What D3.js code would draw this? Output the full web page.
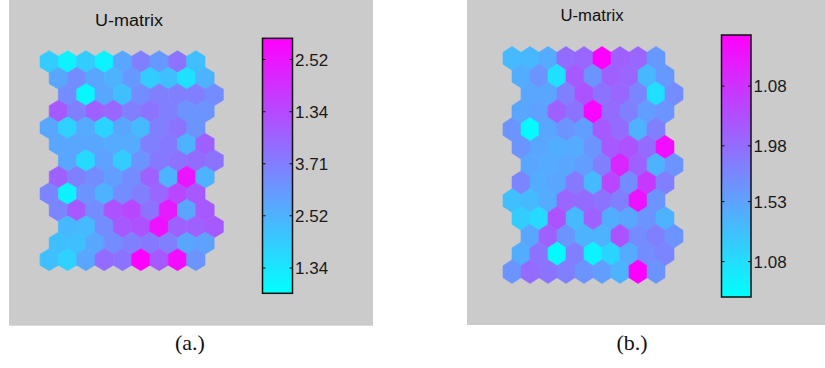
<!DOCTYPE html>
<meta charset="utf-8" />
<script src="https://d3js.org/d3.v7.min.js"></script>
<body style="margin:0;background:#fff">
  <div id="my_dataviz"></div>
  <script>
    // normalised U-matrix values (0 = cyan, 1 = magenta), 13 rows x 9 cells
    var umatA = [
      [0.2, 0.05, 0.2, 0.05, 0.35, 0.5, 0.4, 0.55, 0.25],
      [0.35, 0.45, 0.35, 0.3, 0.4, 0.2, 0.25, 0.12, 0.3],
      [0.45, 0.03, 0.35, 0.25, 0.45, 0.5, 0.5, 0.5, 0.45],
      [0.65, 0.5, 0.62, 0.6, 0.5, 0.55, 0.5, 0.42, 0.42],
      [0.35, 0.18, 0.33, 0.17, 0.35, 0.27, 0.5, 0.55, 0.42],
      [0.35, 0.35, 0.35, 0.33, 0.33, 0.5, 0.52, 0.3, 0.62],
      [0.35, 0.15, 0.37, 0.2, 0.42, 0.52, 0.55, 0.58, 0.55],
      [0.62, 0.5, 0.45, 0.38, 0.45, 0.62, 0.3, 0.92, 0.3],
      [0.48, 0.05, 0.42, 0.3, 0.45, 0.5, 0.6, 0.72, 0.65],
      [0.48, 0.65, 0.45, 0.68, 0.72, 0.55, 0.9, 0.35, 0.65],
      [0.28, 0.27, 0.45, 0.65, 0.68, 0.93, 0.62, 0.62, 0.65],
      [0.25, 0.25, 0.35, 0.45, 0.5, 0.52, 0.5, 0.35, 0.37],
      [0.25, 0.18, 0.35, 0.58, 0.55, 1.0, 0.65, 0.95, 0.42]
    ];
    var umatB = [
      [0.27, 0.28, 0.33, 0.58, 0.6, 1.0, 0.62, 0.6, 0.4],
      [0.32, 0.42, 0.12, 0.65, 0.42, 0.62, 0.6, 0.28, 0.4],
      [0.35, 0.35, 0.5, 0.68, 0.55, 0.6, 0.48, 0.12, 0.45],
      [0.35, 0.37, 0.62, 0.55, 0.98, 0.58, 0.5, 0.38, 0.42],
      [0.42, 0.02, 0.35, 0.42, 0.38, 0.65, 0.58, 0.3, 0.5],
      [0.42, 0.35, 0.32, 0.33, 0.42, 0.65, 0.68, 0.58, 0.95],
      [0.35, 0.33, 0.35, 0.38, 0.5, 0.85, 0.62, 0.3, 0.42],
      [0.48, 0.32, 0.35, 0.52, 0.27, 0.72, 0.45, 0.78, 0.5],
      [0.25, 0.27, 0.33, 0.6, 0.58, 0.55, 0.5, 0.93, 0.42],
      [0.2, 0.15, 0.68, 0.27, 0.62, 0.32, 0.35, 0.42, 0.3],
      [0.35, 0.62, 0.42, 0.3, 0.3, 0.68, 0.45, 0.5, 0.42],
      [0.32, 0.55, 0.02, 0.5, 0.05, 0.17, 0.33, 0.45, 0.48],
      [0.42, 0.58, 0.55, 0.5, 0.42, 0.38, 0.3, 1.0, 0.42]
    ];

    // colorbar ticks (position on the normalised bar) and their labels
    var tickValsA = [0.099, 0.304, 0.508, 0.712, 0.917];
    var tickLabelsA = ["1.34", "2.52", "3.71", "1.34", "2.52"];
    var tickValsB = [0.135, 0.364, 0.577, 0.805];
    var tickLabelsB = ["1.08", "1.53", "1.98", "1.08"];

    var titles = ["U-matrix", "U-matrix"];
    var captions = ["(a.)", "(b.)"];

    // row shift in cell widths (the map edge zig-zags every 4 rows)
    var rowShift = [0, 0.5, 1, 0.5];

    var color = d3.scaleLinear().domain([0, 1]).range(["#00ffff", "#ff00ff"]);

    var svg = d3
      .select("#my_dataviz")
      .append("svg")
      .attr("width", 825)
      .attr("height", 368);

    var defs = svg.append("defs");
    var grad = defs
      .append("linearGradient")
      .attr("id", "cool")
      .attr("x1", 0).attr("y1", 1)
      .attr("x2", 0).attr("y2", 0);
    d3.range(0, 1.0001, 0.1).forEach(function (t) {
      grad.append("stop").attr("offset", t).attr("stop-color", color(t));
    });

    function hexPath(w, h) {
      var pts = [
        [0, -h / 2], [w / 2, -h / 4], [w / 2, h / 4],
        [0, h / 2], [-w / 2, h / 4], [-w / 2, -h / 4]
      ];
      return "M" + pts.map(function (p) { return p.join(","); }).join("L") + "Z";
    }

    function drawPanel(p) {
      var g = svg.append("g");

      // gray figure background
      g.append("rect")
        .attr("x", p.bg[0]).attr("y", p.bg[1])
        .attr("width", p.bg[2]).attr("height", p.bg[3])
        .attr("fill", "#cbcbcb");

      g.append("text")
        .attr("x", p.titleX).attr("y", p.titleY)
        .attr("text-anchor", "middle")
        .attr("textLength", p.titleW)
        .attr("lengthAdjust", "spacingAndGlyphs")
        .style("font-family", "Liberation Sans, Arial, sans-serif")
        .style("font-size", "16px")
        .attr("fill", "#111")
        .text(p.title);

      var x = d3.scaleLinear().domain([0, 9]).range([p.x0, p.x0 + 9 * p.w]);
      var y = d3.scaleLinear().domain([0, 12]).range([p.y0, p.y1]);
      var h = ((p.y1 - p.y0) / 12) / 0.75;

      var cells = [];
      p.data.forEach(function (row, r) {
        row.forEach(function (v, c) {
          cells.push({ r: r, c: c, v: v });
        });
      });

      g.selectAll("path.hex")
        .data(cells)
        .enter()
        .append("path")
        .attr("class", "hex")
        .attr("d", hexPath(p.w, h))
        .attr("transform", function (d) {
          return "translate(" + x(d.c + rowShift[d.r % 4]) + "," + y(d.r) + ")";
        })
        .attr("fill", function (d) { return color(d.v); })
        .attr("stroke", function (d) { return color(d.v); })
        .attr("stroke-width", 0.6);

      // colorbar
      var cy = d3.scaleLinear().domain([0, 1]).range([p.cb[3], p.cb[1]]);
      g.append("rect")
        .attr("x", p.cb[0]).attr("y", p.cb[1])
        .attr("width", p.cb[2]).attr("height", p.cb[3] - p.cb[1])
        .attr("fill", "url(#cool)")
        .attr("stroke", "#111")
        .attr("stroke-width", 1.5);

      var ticks = g.selectAll("g.tick")
        .data(p.ticks)
        .enter()
        .append("g")
        .attr("class", "tick")
        .attr("transform", function (d) { return "translate(0," + cy(d) + ")"; });
      ticks.append("line")
        .attr("x1", p.cb[0]).attr("x2", p.cb[0] + 3)
        .attr("stroke", "#111");
      ticks.append("line")
        .attr("x1", p.cb[0] + p.cb[2] - 3).attr("x2", p.cb[0] + p.cb[2])
        .attr("stroke", "#111");
      ticks.append("text")
        .attr("x", p.cb[0] + p.cb[2] + 2.5)
        .attr("dy", "0.36em")
        .style("font-family", "Liberation Sans, Arial, sans-serif")
        .style("font-size", "17px")
        .attr("fill", "#1a1a1a")
        .text(function (d, i) { return p.labels[i]; });

      svg.append("text")
        .attr("x", p.capX).attr("y", 350)
        .attr("text-anchor", "middle")
        .style("font-family", "Liberation Serif, Times New Roman, serif")
        .style("font-size", "22px")
        .attr("fill", "#111")
        .text(p.caption);
    }

    drawPanel({
      data: umatA, ticks: tickValsA, labels: tickLabelsA,
      title: titles[0], caption: captions[0],
      bg: [9, 0, 364, 325.7],
      titleX: 129, titleY: 25.5, titleW: 68,
      x0: 49.2, w: 18.33, y0: 61.7, y1: 259.7,
      cb: [262.5, 38.3, 30, 293.3],
      capX: 190
    });

    drawPanel({
      data: umatB, ticks: tickValsB, labels: tickLabelsB,
      title: titles[1], caption: captions[1],
      bg: [467, 0, 358, 325],
      titleX: 592, titleY: 21, titleW: 63,
      x0: 512, w: 18, y0: 58.3, y1: 271.7,
      cb: [721.5, 35, 29.5, 297],
      capX: 632
    });
  </script>
</body>
